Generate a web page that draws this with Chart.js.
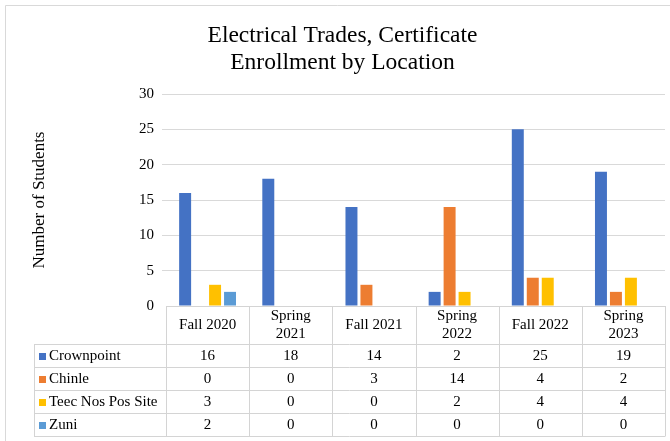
<!DOCTYPE html>
<html><head><meta charset="utf-8">
<script src="https://cdn.jsdelivr.net/npm/chart.js@4.4.0/dist/chart.umd.min.js"></script>
<style>html,body{margin:0;padding:0;background:#fff;}</style>
</head><body>
<canvas id="c" width="670" height="441" style="display:block;width:670px;height:441px"></canvas>
<script>
const categories = [['Fall 2020'], ['Spring', '2021'], ['Fall 2021'], ['Spring', '2022'], ['Fall 2022'], ['Spring', '2023']];
const seriesNames = ['Crownpoint', 'Chinle', 'Teec Nos Pos Site', 'Zuni'];
const crownpoint = [16, 18, 14, 2, 25, 19];
const chinle = [0, 0, 3, 14, 4, 2];
const teecNosPos = [3, 0, 0, 2, 4, 4];
const zuni = [2, 0, 0, 0, 0, 0];
const yTickMin = 0, yTickMax = 30, yTickStep = 5;
const seriesColors = ['#4472C4', '#ED7D31', '#FFC000', '#5B9BD5'];
const seriesValues = [crownpoint, chinle, teecNosPos, zuni];

const FONT = '"Liberation Serif", "Times New Roman", serif';
const GRID = '#d9d9d9';
const TABLE_LINE = '#d4d4d4';

const tablePlugin = {
  id: 'dataTable',
  beforeDraw(chart) {
    const ctx = chart.ctx;
    ctx.save();
    ctx.fillStyle = '#fff';
    ctx.fillRect(0, 0, chart.width, chart.height);
    ctx.strokeStyle = GRID;
    ctx.lineWidth = 1;
    ctx.beginPath();
    ctx.moveTo(5.5, chart.height);
    ctx.lineTo(5.5, 5.5);
    ctx.lineTo(chart.width, 5.5);
    ctx.stroke();
    ctx.restore();
  },
  afterDraw(chart) {
    const ctx = chart.ctx;
    const a = chart.chartArea;
    const xs = chart.scales.x;
    const n = categories.length;
    const colW = (a.right - a.left) / n;
    const top = Math.round(a.bottom);
    const headerH = 38, rowH = 23, legendLeft = 34;
    const rowsTop = top + headerH;
    const bottom = rowsTop + rowH * seriesNames.length;
    ctx.save();
    ctx.strokeStyle = TABLE_LINE;
    ctx.lineWidth = 1;
    ctx.beginPath();
    ctx.moveTo(a.left, top + 0.5); ctx.lineTo(a.right, top + 0.5);
    for (let r = 0; r <= seriesNames.length; r++) {
      const y = rowsTop + r * rowH + 0.5;
      ctx.moveTo(legendLeft, y); ctx.lineTo(a.right, y);
    }
    for (let i = 0; i <= n; i++) {
      const x = Math.round(a.left + i * colW) + 0.5;
      ctx.moveTo(x, top); ctx.lineTo(x, bottom + 0.5);
    }
    ctx.moveTo(legendLeft + 0.5, rowsTop); ctx.lineTo(legendLeft + 0.5, bottom + 0.5);
    ctx.stroke();

    ctx.fillStyle = '#000';
    ctx.font = '15px ' + FONT;
    ctx.textAlign = 'center';
    ctx.textBaseline = 'middle';
    categories.forEach((lab, i) => {
      const cx = xs.getPixelForValue(i);
      const cy = top + headerH / 2;
      const lh = 18;
      lab.forEach((line, k) => {
        ctx.fillText(line, cx, cy + (k - (lab.length - 1) / 2) * lh);
      });
    });
    seriesNames.forEach((name, r) => {
      const cy = rowsTop + r * rowH + rowH / 2 + 0.5;
      ctx.fillStyle = seriesColors[r];
      ctx.fillRect(39, Math.round(cy - 3.5), 7, 7);
      ctx.fillStyle = '#000';
      ctx.textAlign = 'left';
      ctx.fillText(name, 49, cy);
      ctx.textAlign = 'center';
      seriesValues[r].forEach((v, i) => {
        ctx.fillText(String(v), xs.getPixelForValue(i), cy);
      });
    });
    ctx.restore();
  }
};

new Chart(document.getElementById('c'), {
  type: 'bar',
  data: {
    labels: categories,
    datasets: seriesNames.map((name, i) => ({
      label: name,
      data: seriesValues[i],
      backgroundColor: seriesColors[i],
      borderWidth: 0,
      categoryPercentage: 0.72,
      barPercentage: 0.8
    }))
  },
  options: {
    responsive: false,
    animation: false,
    devicePixelRatio: 1,
    layout: { padding: { left: 20, right: 5, top: 0, bottom: 135 } },
    plugins: {
      legend: { display: false },
      tooltip: { enabled: false },
      title: {
        display: true,
        text: ['Electrical Trades, Certificate', 'Enrollment by Location'],
        color: '#000',
        font: { family: FONT, size: 23.5, weight: 'normal', lineHeight: 27 / 23.5 },
        padding: { top: 22, bottom: 18 }
      }
    },
    scales: {
      x: { display: false },
      y: {
        min: yTickMin, max: yTickMax,
        afterFit(s) { s.width = 146; },
        border: { display: false },
        grid: { lineWidth: 1, drawTicks: true, tickLength: 4,
                color: (c) => c.tick && c.tick.value === 0 ? 'rgba(0,0,0,0)' : GRID },
        ticks: { stepSize: yTickStep, padding: 8, color: '#000', font: { family: FONT, size: 15 } },
        title: {
          display: true, text: 'Number of Students', color: '#000',
          font: { family: FONT, size: 17 }, padding: { top: 9, bottom: 0 }
        }
      }
    }
  },
  plugins: [tablePlugin]
});
</script>
</body></html>
